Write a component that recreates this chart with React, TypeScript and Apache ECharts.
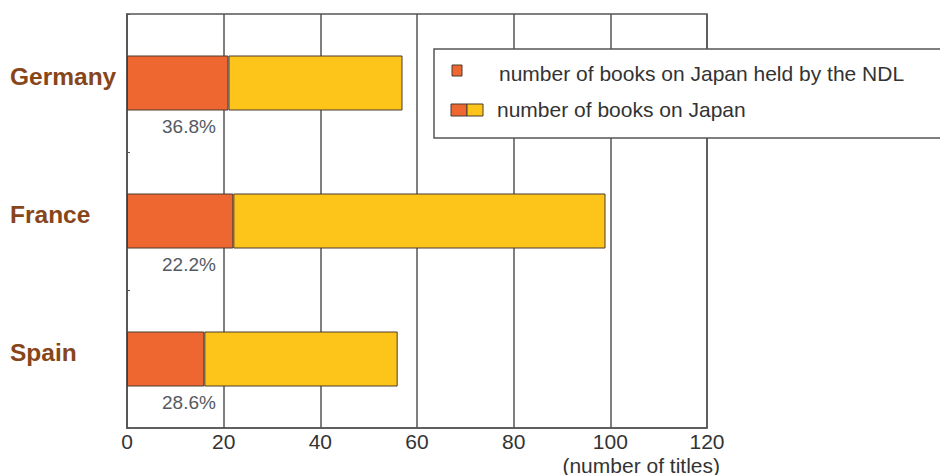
import React, { useEffect, useRef } from "react";
import * as echarts from "echarts";

const countries = ["Germany", "France", "Spain"];
const totalBooks = [57, 99, 56];
const ndlBooks = [21, 22, 16];
const shareLabels = ["36.8%", "22.2%", "28.6%"];
const xTicks = [0, 20, 40, 60, 80, 100, 120];
const legendNames = ["number of books on Japan held by the NDL", "number of books on Japan"];

const RED = "#ee6730";
const YELLOW = "#fdc51a";
const EDGE = "#4a3b30";
const FONT = "Liberation Sans, Arial, sans-serif";

export default function App() {
  const ref = useRef<HTMLDivElement>(null);
  useEffect(() => {
    if (!ref.current) return;
    const chart = echarts.init(ref.current, null, { renderer: "svg" });
    const rest = totalBooks.map((t, i) => t - ndlBooks[i]);
    chart.setOption({
      animation: false,
      backgroundColor: "#ffffff",
      grid: {
        left: 127,
        top: 14,
        right: 233,
        bottom: 47,
        show: true,
        borderColor: "#555",
        borderWidth: 1.5,
      },
      xAxis: {
        type: "value",
        min: xTicks[0],
        max: xTicks[xTicks.length - 1],
        interval: 20,
        axisLine: { show: true, lineStyle: { color: "#555", width: 1.5 } },
        axisTick: { show: false },
        splitLine: { show: true, lineStyle: { color: "#555", width: 1.5 } },
        axisLabel: { color: "#333", fontSize: 21, fontFamily: FONT, margin: 3 },
      },
      yAxis: {
        type: "category",
        data: countries,
        inverse: true,
        axisLine: { show: true, lineStyle: { color: "#555", width: 1.5 } },
        axisTick: { show: true, inside: true, length: 3, lineStyle: { color: "#555" } },
        axisLabel: {
          color: "#87461a",
          fontSize: 24.5,
          fontWeight: "bold",
          fontFamily: FONT,
          align: "left",
          verticalAlign: "bottom",
          lineHeight: 14,
          margin: 117,
        },
      },
      series: [
        {
          name: legendNames[0],
          type: "bar",
          stack: "books",
          barWidth: 55,
          data: ndlBooks,
          itemStyle: { color: RED, borderColor: EDGE, borderWidth: 1 },
          label: {
            show: true,
            position: [35, 71],
            align: "left",
            verticalAlign: "middle",
            formatter: (p: any) => shareLabels[p.dataIndex],
            color: "#555a62",
            fontSize: 19,
            fontFamily: FONT,
          },
        },
        {
          name: legendNames[1],
          type: "bar",
          stack: "books",
          barWidth: 55,
          data: rest,
          itemStyle: { color: YELLOW, borderColor: EDGE, borderWidth: 1 },
        },
      ],
      graphic: [
        {
          type: "rect",
          shape: { x: 434, y: 49, width: 520, height: 89 },
          style: { fill: "#fff", stroke: "#555", lineWidth: 1.5 },
          z: 100,
        },
        {
          type: "rect",
          shape: { x: 452, y: 65, width: 10, height: 11 },
          style: { fill: RED, stroke: EDGE, lineWidth: 1 },
          z: 101,
        },
        {
          type: "text",
          x: 499,
          y: 73,
          style: {
            text: legendNames[0],
            fill: "#333",
            fontSize: 21,
            fontFamily: FONT,
            verticalAlign: "middle",
          },
          z: 101,
        },
        {
          type: "rect",
          shape: { x: 451, y: 104, width: 16, height: 12 },
          style: { fill: RED, stroke: EDGE, lineWidth: 1 },
          z: 101,
        },
        {
          type: "rect",
          shape: { x: 467, y: 104, width: 16, height: 12 },
          style: { fill: YELLOW, stroke: EDGE, lineWidth: 1 },
          z: 101,
        },
        {
          type: "text",
          x: 497,
          y: 109,
          style: {
            text: legendNames[1],
            fill: "#333",
            fontSize: 21,
            fontFamily: FONT,
            verticalAlign: "middle",
          },
          z: 101,
        },
        {
          type: "text",
          x: 720,
          y: 465,
          style: {
            text: "(number of titles)",
            fill: "#333",
            fontSize: 21,
            fontFamily: FONT,
            align: "right",
            verticalAlign: "middle",
          },
          z: 101,
        },
      ],
    });
    return () => chart.dispose();
  }, []);
  return <div ref={ref} style={{ width: 940, height: 475, position: "absolute", left: 0, top: 0 }} />;
}
